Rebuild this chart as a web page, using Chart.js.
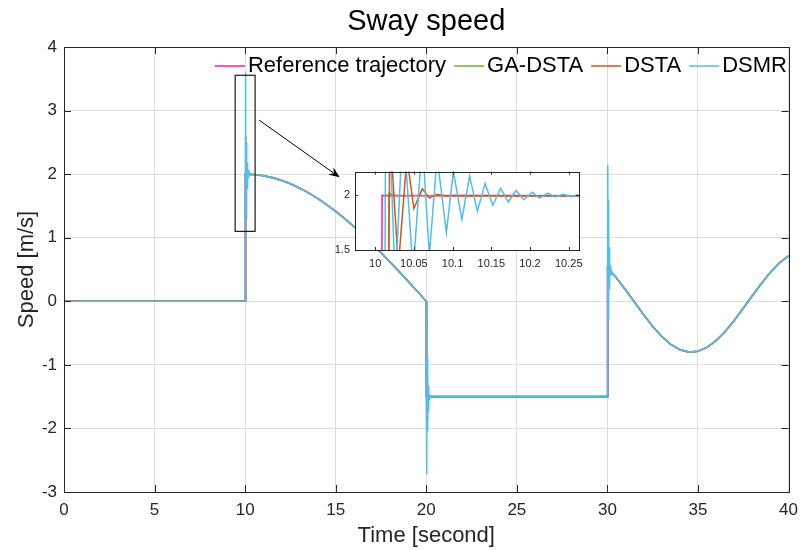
<!DOCTYPE html>
<html>
<head>
<meta charset="utf-8">
<script src="https://cdn.jsdelivr.net/npm/chart.js@4.4.1/dist/chart.umd.min.js"></script>
<style>
  html, body { margin: 0; padding: 0; background: #ffffff; }
  #wrap { position: relative; width: 806px; height: 550px; }
  #main { position: absolute; left: 0; top: 0; }
  #inset { position: absolute; left: 320px; top: 160px; }
</style>
</head>
<body>
<div id="wrap">
  <canvas id="main" width="806" height="550"></canvas>
  <canvas id="inset" width="270" height="115"></canvas>
</div>
<script>
// ---------------- DATA ----------------
const seriesNames = ['Reference trajectory', 'GA-DSTA', 'DSTA', 'DSMR'];
const seriesColors = ['#f81ca8', '#77ac30', '#d95319', '#4dbeee'];

const xTickValues = [0, 5, 10, 15, 20, 25, 30, 35, 40];
const xTickLabels = ['0', '5', '10', '15', '20', '25', '30', '35', '40'];
const yTickValues = [-3, -2, -1, 0, 1, 2, 3, 4];
const yTickLabels = ['-3', '-2', '-1', '0', '1', '2', '3', '4'];
const insetXTickValues = [10, 10.05, 10.1, 10.15, 10.2, 10.25];
const insetXTickLabels = ['10', '10.05', '10.1', '10.15', '10.2', '10.25'];
const insetYTickValues = [1.5, 2];
const insetYTickLabels = ['1.5', '2'];

// shared smooth segments
const decayT = [10.5, 11, 11.5, 12, 12.5, 13, 13.5, 14, 14.5, 15, 15.5, 16, 16.5, 17, 17.5, 18, 18.5, 19, 19.5, 20];
const decayV = [1.994, 1.975, 1.945, 1.902, 1.848, 1.782, 1.705, 1.618, 1.521, 1.414, 1.299, 1.176, 1.045, 0.908, 0.765, 0.618, 0.467, 0.313, 0.157, 0];
const waveT = [30.5, 31, 31.5, 32, 32.5, 33, 33.5, 34, 34.5, 35, 35.5, 36, 36.5, 37, 37.5, 38, 38.5, 39, 39.5, 40];
const waveV = [0.368, 0.181, -0.016, -0.213, -0.395, -0.554, -0.679, -0.762, -0.799, -0.786, -0.725, -0.619, -0.476, -0.302, -0.111, 0.087, 0.280, 0.456, 0.603, 0.714];

// Reference trajectory
const refT10 = [0, 10.008, 10.009];
const refV10 = [0, 0, 2.0];
const refT20 = [20.001, 30];
const refV20 = [-1.5, -1.5];
const refT30 = [30.001];
const refV30 = [0.531];

// GA-DSTA
const gaT10 = [0, 10.016, 10.018, 10.025];
const gaV10 = [0, 0, 2.02, 2.0];
const gaT20 = [20.016, 20.018, 20.03, 30];
const gaV20 = [0, -1.52, -1.5, -1.5];
const gaT30 = [30.016, 30.018, 30.03];
const gaV30 = [-1.5, 0.55, 0.53];

// DSTA
const dstaT10 = [0, 10.016, 10.019, 10.03, 10.041, 10.05, 10.061, 10.07, 10.08, 10.09, 10.1];
const dstaV10 = [0, 0, 2.6, 1.35, 2.35, 1.88, 2.06, 1.975, 2.01, 1.996, 2.0];
const dstaT20 = [20.016, 20.019, 20.03, 20.041, 20.05, 20.061, 20.07, 20.08, 20.1, 30];
const dstaV20 = [0, -2.0, -1.05, -1.85, -1.38, -1.56, -1.48, -1.51, -1.5, -1.5];
const dstaT30 = [30.016, 30.019, 30.03, 30.041, 30.05, 30.061, 30.07, 30.08, 30.1];
const dstaV30 = [-1.5, 1.15, 0.05, 0.85, 0.40, 0.58, 0.49, 0.52, 0.505];

// DSMR
const dsmrT10 = [0, 10.012, 10.014, 10.026, 10.036, 10.049, 10.061, 10.07, 10.08, 10.092,
                 10.101, 10.112, 10.122, 10.132, 10.142, 10.152, 10.162, 10.172, 10.182, 10.192,
                 10.203, 10.212, 10.223, 10.232, 10.243, 10.253, 10.262, 10.272, 10.3];
const dsmrV10 = [0, 0, 3.6, 1.15, 2.68, 1.3, 2.5, 1.45, 2.35, 1.66,
                 2.22, 1.78, 2.18, 1.855, 2.11, 1.91, 2.065, 1.94, 2.045, 1.96,
                 2.03, 1.975, 2.02, 1.985, 2.01, 1.99, 2.005, 1.997, 1.998];
const dsmrT20 = [20.012, 20.024, 20.036, 20.048, 20.06, 20.07, 20.08, 20.09, 20.1, 20.11,
                 20.12, 20.13, 20.14, 20.15, 20.16, 20.17, 20.18, 20.19, 20.2, 20.22, 30];
const dsmrV20 = [-2.72, -0.58, -2.3, -0.88, -2.05, -1.08, -1.85, -1.22, -1.72, -1.32,
                 -1.64, -1.38, -1.58, -1.42, -1.55, -1.46, -1.53, -1.48, -1.51, -1.5, -1.5];
const dsmrT30 = [30.012, 30.024, 30.036, 30.048, 30.06, 30.07, 30.08, 30.09, 30.1, 30.11,
                 30.12, 30.13, 30.14, 30.15, 30.16, 30.17, 30.18, 30.19, 30.2, 30.22];
const dsmrV30 = [2.14, -0.77, 1.6, -0.3, 1.3, 0.0, 1.05, 0.2, 0.85, 0.33,
                 0.70, 0.40, 0.62, 0.43, 0.56, 0.45, 0.52, 0.46, 0.49, 0.465];

// ---------------- BUILD ----------------
function buildPoints(t10, v10, t20, v20, t30, v30) {
  const T = [].concat(t10, decayT, t20, t30, waveT);
  const V = [].concat(v10, decayV, v20, v30, waveV);
  return T.map((t, i) => ({ x: t, y: V[i] }));
}
const seriesPoints = [
  buildPoints(refT10, refV10, refT20, refV20, refT30, refV30),
  buildPoints(gaT10, gaV10, gaT20, gaV20, gaT30, gaV30),
  buildPoints(dstaT10, dstaV10, dstaT20, dstaV20, dstaT30, dstaV30),
  buildPoints(dsmrT10, dsmrV10, dsmrT20, dsmrV20, dsmrT30, dsmrV30)
];

const FONT = '"Liberation Sans", Arial, Helvetica, sans-serif';
const AXC = '#262626';

function makeDatasets(width) {
  return seriesPoints.map((pts, i) => ({
    label: seriesNames[i],
    data: pts,
    borderColor: seriesColors[i],
    backgroundColor: seriesColors[i],
    borderWidth: width,
    pointRadius: 0,
    tension: 0,
    fill: false,
    order: 3 - i
  }));
}

function setTicks(values) {
  return function (scale) { scale.ticks = values.map(v => ({ value: v })); };
}
function labelFrom(values, labels) {
  return function (value) {
    const idx = values.findIndex(v => Math.abs(v - value) < 1e-9);
    return idx >= 0 ? labels[idx] : '';
  };
}

function drawInwardTicks(ctx, chart, xVals, yVals, len) {
  const a = chart.chartArea, xs = chart.scales.x, ys = chart.scales.y;
  ctx.beginPath();
  xVals.forEach(v => {
    const px = Math.round(xs.getPixelForValue(v)) + 0.5;
    ctx.moveTo(px, a.bottom); ctx.lineTo(px, a.bottom - len);
    ctx.moveTo(px, a.top); ctx.lineTo(px, a.top + len);
  });
  yVals.forEach(v => {
    const py = Math.round(ys.getPixelForValue(v)) + 0.5;
    ctx.moveTo(a.left, py); ctx.lineTo(a.left + len, py);
    ctx.moveTo(a.right, py); ctx.lineTo(a.right - len, py);
  });
  ctx.stroke();
}

const mainDecor = {
  id: 'mainDecor',
  afterDraw(chart) {
    const ctx = chart.ctx, a = chart.chartArea, xs = chart.scales.x, ys = chart.scales.y;
    ctx.save();
    // box
    ctx.strokeStyle = AXC; ctx.lineWidth = 1;
    ctx.strokeRect(Math.round(a.left) + 0.5, Math.round(a.top) + 0.5,
                   Math.round(a.right - a.left), Math.round(a.bottom - a.top));
    drawInwardTicks(ctx, chart, xTickValues, yTickValues, 7);

    // zoom rectangle and arrow
    const rx1 = xs.getPixelForValue(9.45), rx2 = xs.getPixelForValue(10.55);
    const ry1 = ys.getPixelForValue(3.555), ry2 = ys.getPixelForValue(1.10);
    ctx.strokeStyle = '#1a1a1a'; ctx.lineWidth = 1.2;
    ctx.strokeRect(rx1, ry1, rx2 - rx1, ry2 - ry1);
    const ax1 = xs.getPixelForValue(10.77), ay1 = ys.getPixelForValue(2.85);
    const ax2 = xs.getPixelForValue(15.22), ay2 = ys.getPixelForValue(1.95);
    const ang = Math.atan2(ay2 - ay1, ax2 - ax1);
    const hl = 11, hw = 4.5;
    ctx.strokeStyle = '#000'; ctx.lineWidth = 1;
    ctx.beginPath();
    ctx.moveTo(ax1, ay1);
    ctx.lineTo(ax2 - hl * 0.7 * Math.cos(ang), ay2 - hl * 0.7 * Math.sin(ang));
    ctx.stroke();
    ctx.fillStyle = '#000';
    ctx.beginPath();
    ctx.moveTo(ax2, ay2);
    ctx.lineTo(ax2 - hl * Math.cos(ang) + hw * Math.sin(ang), ay2 - hl * Math.sin(ang) - hw * Math.cos(ang));
    ctx.lineTo(ax2 - hl * 0.65 * Math.cos(ang), ay2 - hl * 0.65 * Math.sin(ang));
    ctx.lineTo(ax2 - hl * Math.cos(ang) - hw * Math.sin(ang), ay2 - hl * Math.sin(ang) + hw * Math.cos(ang));
    ctx.closePath();
    ctx.fill();

    // title
    ctx.fillStyle = '#000';
    ctx.font = '29px ' + FONT;
    ctx.textAlign = 'center'; ctx.textBaseline = 'middle';
    ctx.fillText('Sway speed', (a.left + a.right) / 2, 22);

    // axis titles
    ctx.fillStyle = AXC;
    ctx.font = '22px ' + FONT;
    ctx.fillText('Time [second]', (a.left + a.right) / 2, 536);
    ctx.save();
    ctx.translate(27, (a.top + a.bottom) / 2);
    ctx.rotate(-Math.PI / 2);
    ctx.fillText('Speed [m/s]', 0, 0);
    ctx.restore();

    // legend (no box), right aligned
    ctx.font = '22px ' + FONT;
    const lineLen = 30, gap1 = 3, gap2 = 8;
    const widths = seriesNames.map(n => ctx.measureText(n).width);
    let total = widths.reduce((s, w) => s + w, 0) + seriesNames.length * (lineLen + gap1 + gap2) - gap2;
    let x = 787 - total;
    const ly = 66;
    ctx.textAlign = 'left';
    seriesNames.forEach((n, i) => {
      ctx.strokeStyle = seriesColors[i]; ctx.lineWidth = 1.5;
      ctx.beginPath(); ctx.moveTo(x, ly); ctx.lineTo(x + lineLen, ly); ctx.stroke();
      x += lineLen + gap1;
      ctx.fillStyle = '#000';
      ctx.fillText(n, x, ly);
      x += widths[i] + gap2;
    });
    ctx.restore();
  }
};

const mainChart = new Chart(document.getElementById('main'), {
  type: 'line',
  data: { datasets: makeDatasets(1.6) },
  options: {
    responsive: false,
    animation: false,
    events: [],
    layout: { padding: { top: 47, right: 14, bottom: 0, left: 0 } },
    plugins: { legend: { display: false }, title: { display: false }, tooltip: { enabled: false } },
    scales: {
      x: {
        type: 'linear', min: 0, max: 40,
        afterBuildTicks: setTicks(xTickValues),
        afterFit(scale) { scale.height = 58; },
        grid: { color: '#dedede', lineWidth: 1, drawTicks: false },
        border: { display: false },
        ticks: { callback: labelFrom(xTickValues, xTickLabels), color: AXC, font: { family: FONT, size: 17 }, padding: 8, maxRotation: 0, autoSkip: false }
      },
      y: {
        type: 'linear', min: -3, max: 4,
        afterBuildTicks: setTicks(yTickValues),
        afterFit(scale) { scale.width = 64; },
        grid: { color: '#dedede', lineWidth: 1, drawTicks: false },
        border: { display: false },
        ticks: { callback: labelFrom(yTickValues, yTickLabels), color: AXC, font: { family: FONT, size: 17 }, padding: 7, autoSkip: false }
      }
    }
  },
  plugins: [mainDecor]
});

const insetDecor = {
  id: 'insetDecor',
  beforeDraw(chart) {
    const ctx = chart.ctx, a = chart.chartArea;
    ctx.save();
    ctx.fillStyle = '#ffffff';
    ctx.fillRect(a.left, a.top, a.right - a.left, a.bottom - a.top);
    ctx.restore();
  },
  afterDraw(chart) {
    const ctx = chart.ctx, a = chart.chartArea;
    ctx.save();
    ctx.strokeStyle = AXC; ctx.lineWidth = 1;
    ctx.strokeRect(Math.round(a.left) + 0.5, Math.round(a.top) + 0.5,
                   Math.round(a.right - a.left), Math.round(a.bottom - a.top));
    drawInwardTicks(ctx, chart, insetXTickValues, insetYTickValues, 3);
    ctx.restore();
  }
};

const insetChart = new Chart(document.getElementById('inset'), {
  type: 'line',
  data: { datasets: makeDatasets(1.5) },
  options: {
    responsive: false,
    animation: false,
    events: [],
    layout: { padding: { top: 11, right: 11, bottom: 0, left: 0 } },
    plugins: { legend: { display: false }, title: { display: false }, tooltip: { enabled: false } },
    scales: {
      x: {
        type: 'linear', min: 9.974, max: 10.263,
        afterBuildTicks: setTicks(insetXTickValues),
        afterFit(scale) { scale.height = 25; },
        grid: { display: false, drawTicks: false },
        border: { display: false },
        ticks: { callback: labelFrom(insetXTickValues, insetXTickLabels), color: AXC, font: { family: FONT, size: 11 }, padding: 7, maxRotation: 0, autoSkip: false }
      },
      y: {
        type: 'linear', min: 1.5, max: 2.218,
        afterBuildTicks: setTicks(insetYTickValues),
        afterFit(scale) { scale.width = 35; },
        grid: { display: false, drawTicks: false },
        border: { display: false },
        ticks: { callback: labelFrom(insetYTickValues, insetYTickLabels), color: AXC, font: { family: FONT, size: 11 }, padding: 5, autoSkip: false }
      }
    }
  },
  plugins: [insetDecor]
});
</script>
</body>
</html>
